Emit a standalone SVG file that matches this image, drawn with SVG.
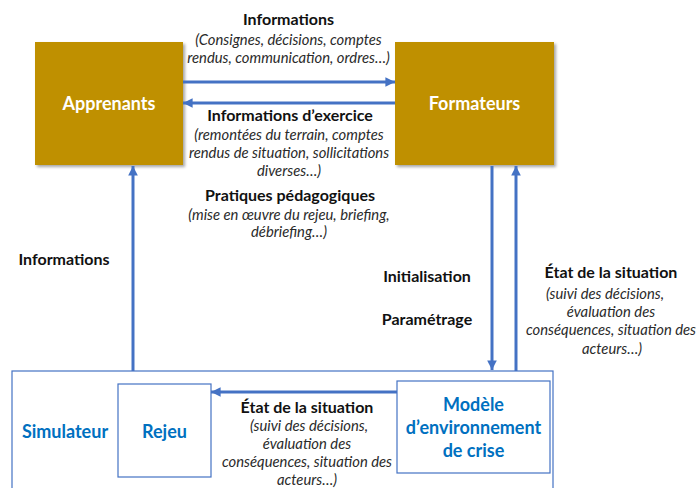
<svg xmlns="http://www.w3.org/2000/svg" width="696" height="488" viewBox="0 0 696 488">
<defs>
<style>
.t{font-family:Lato,"Liberation Sans",sans-serif;fill:#111;text-anchor:middle}
.b{font-weight:bold;font-size:16px}
.i{font-style:italic;font-size:14.8px;fill:#2a2a2a}
.w{font-family:Lato,"Liberation Sans",sans-serif;font-weight:bold;font-size:18px;fill:#fff;text-anchor:middle}
.bl{font-family:Lato,"Liberation Sans",sans-serif;font-weight:bold;font-size:18px;fill:#0070C0;text-anchor:middle}
.gold{fill:#BF9000}
.frame{fill:#fff;stroke:#4472C4;stroke-width:1.2}
.con{stroke:#4472C4;stroke-width:3;fill:none}
</style>
<filter id="sh" x="-10%" y="-10%" width="130%" height="130%">
<feDropShadow dx="2" dy="2" stdDeviation="1.5" flood-color="#000" flood-opacity="0.35"/>
</filter>
<marker id="ah" viewBox="0 0 10 10" refX="10" refY="5" markerWidth="3.2" markerHeight="3.2" orient="auto" markerUnits="strokeWidth">
<path d="M0,0 L10,5 L0,10 z" fill="#4472C4"/>
</marker>
</defs>
<rect width="696" height="488" fill="#fff"/>

<g id="simulateur">
<rect class="frame" x="12" y="371" width="541" height="130"/>
<text class="bl" x="65" y="438">Simulateur</text>
</g>
<g id="rejeu">
<rect class="frame" x="118" y="384" width="93" height="93" stroke-width="1.5"/>
<text class="bl" x="164.5" y="438">Rejeu</text>
</g>
<g id="modele">
<rect class="frame" x="397" y="381" width="153" height="92" stroke-width="1.5"/>
<text class="bl" x="473.5" y="411">Modèle</text>
<text class="bl" x="473.5" y="434">d’environnement</text>
<text class="bl" x="473.5" y="457">de crise</text>
</g>
<g id="apprenants">
<rect class="gold" x="35" y="42" width="148" height="123" filter="url(#sh)"/>
<text class="w" x="109" y="110">Apprenants</text>
</g>
<g id="formateurs">
<rect class="gold" x="395" y="42" width="159" height="123" filter="url(#sh)"/>
<text class="w" x="474.5" y="110">Formateurs</text>
</g>

<g id="connectors">
<line class="con" x1="183" y1="82" x2="395" y2="82" marker-end="url(#ah)"/>
<line class="con" x1="395" y1="103" x2="183" y2="103" marker-end="url(#ah)"/>
<line class="con" x1="133" y1="371" x2="133" y2="166" marker-end="url(#ah)"/>
<line class="con" x1="492" y1="166" x2="492" y2="370" marker-end="url(#ah)"/>
<line class="con" x1="516" y1="371" x2="516" y2="166" marker-end="url(#ah)"/>
<line class="con" x1="397" y1="392" x2="211" y2="392" marker-end="url(#ah)"/>
</g>

<g id="labels">
<text class="t b" x="288.5" y="25">Informations</text>
<text class="t i" x="288.5" y="45">(Consignes, décisions, comptes</text>
<text class="t i" x="288.5" y="63">rendus, communication, ordres…)</text>

<text class="t b" x="290" y="121">Informations d’exercice</text>
<text class="t i" x="289" y="140">(remontées du terrain, comptes</text>
<text class="t i" x="289" y="158">rendus de situation, sollicitations</text>
<text class="t i" x="289" y="176">diverses…)</text>

<text class="t b" x="290" y="201">Pratiques pédagogiques</text>
<text class="t i" x="289" y="220">(mise en œuvre du rejeu, briefing,</text>
<text class="t i" x="289" y="237">débriefing…)</text>

<text class="t b" x="64" y="265">Informations</text>
<text class="t b" x="427" y="282">Initialisation</text>
<text class="t b" x="427" y="325">Paramétrage</text>

<text class="t b" x="611" y="278">État de la situation</text>
<text class="t i" x="605" y="299">(suivi des décisions,</text>
<text class="t i" x="611" y="317">évaluation des</text>
<text class="t i" x="611" y="335">conséquences, situation des</text>
<text class="t i" x="612" y="354">acteurs…)</text>

<text class="t b" x="307" y="413">État de la situation</text>
<text class="t i" x="309" y="431">(suivi des décisions,</text>
<text class="t i" x="307" y="449">évaluation des</text>
<text class="t i" x="307" y="467">conséquences, situation des</text>
<text class="t i" x="307" y="484.5">acteurs…)</text>
</g>
</svg>
